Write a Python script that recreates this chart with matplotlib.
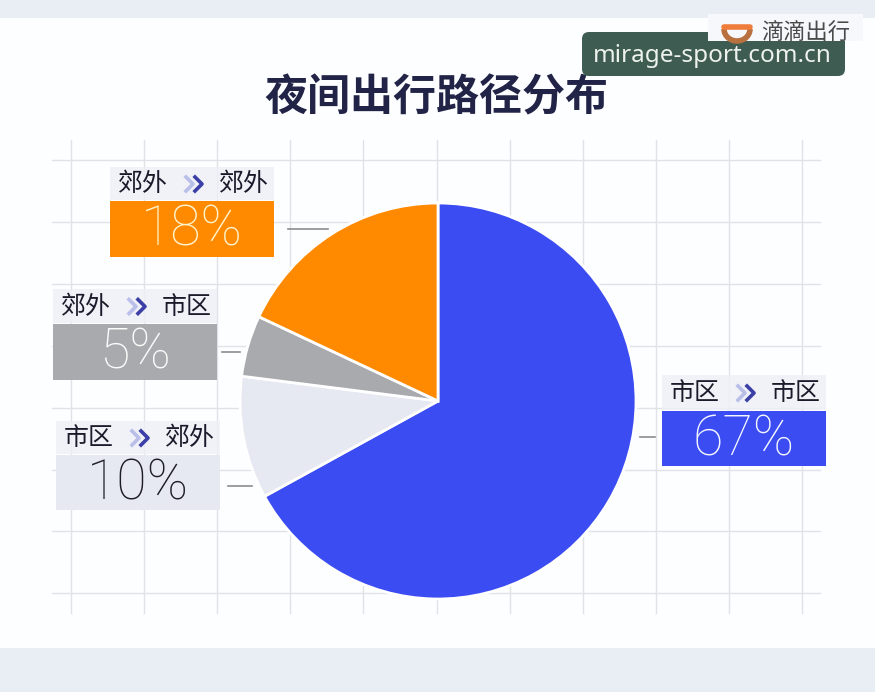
import matplotlib
matplotlib.use('Agg')
import matplotlib.pyplot as plt
from matplotlib.patches import Rectangle, FancyBboxPatch, Arc

plt.rcParams['font.family'] = ['Noto Sans CJK SC', 'DejaVu Sans']

# data
title = '夜间出行路径分布'
routes_from = ['市区', '市区', '郊外', '郊外']
routes_to = ['市区', '郊外', '市区', '郊外']
shares = [67, 10, 5, 18]
slice_colors = ['#3a4cf2', '#e7e9f2', '#a9aaae', '#ff8a00']
value_colors = ['#f4f6ff', '#1d1d2b', '#fbfbfb', '#fff3cc']

# label layout in pixels: box left, header top, value top, value bottom, connector
layout = [
    dict(x=662, ht=375, vt=411, vb=466, cx=(640, 655), cy=437),
    dict(x=56, ht=421, vt=455, vb=510, cx=(228, 252), cy=486),
    dict(x=53, ht=289, vt=324, vb=380, cx=(222, 240), cy=352),
    dict(x=110, ht=167, vt=201, vb=257, cx=(288, 328), cy=229),
]
box_w = 164

W, H = 875, 692
fig = plt.figure(figsize=(W / 100, H / 100), dpi=100)
fig.patch.set_facecolor('#e9edf4')

bg = fig.add_axes([0, 0, 1, 1])
bg.set_xlim(0, W)
bg.set_ylim(H, 0)
bg.axis('off')

# white card
bg.add_patch(Rectangle((0, 18), W, 630, facecolor='#fdfeff', edgecolor='none', zorder=0))

# grid
for gx in range(11):
    x = 71 + gx * 73.1
    bg.plot([x, x], [140, 613], color='#e0e2e8', lw=1, zorder=1)
for gy in range(8):
    y = 160 + gy * 61.9
    bg.plot([52, 820], [y, y], color='#e0e2e8', lw=1, zorder=1)

# watermark box, then the logo strip over its top
bg.add_patch(FancyBboxPatch((582, 32), 263, 44, boxstyle='round,pad=0,rounding_size=7',
                            facecolor='#3e5c51', edgecolor='none', zorder=4))
bg.text(712, 56, 'mirage-sport.com.cn', fontsize=17.5, family='Noto Sans', color='#eef2ee',
        ha='center', va='center', zorder=5)
bg.add_patch(Rectangle((708, 14), 155, 27, facecolor='#f7f8fb', edgecolor='none', zorder=6))
bg.add_patch(Arc((737, 29), 26, 24, theta1=0, theta2=180, color='#b8703f', lw=4, zorder=7))
bg.plot([724, 750], [27, 27], color='#f07c3c', lw=4, zorder=7, solid_capstyle='round')
bg.text(806, 32, '滴滴出行', fontsize=16, color='#4a4a4a', ha='center', va='center', zorder=7)

# title
bg.text(436, 97, title, fontsize=31, fontweight='bold', color='#222447',
        ha='center', va='center', zorder=3)

# labels
for i, lay in enumerate(layout):
    x0 = lay['x']
    bg.add_patch(Rectangle((x0, lay['ht']), box_w, lay['vt'] - lay['ht'] - 1,
                           facecolor='#eef0f7', edgecolor='none', alpha=0.85, zorder=2))
    bg.add_patch(Rectangle((x0, lay['vt']), box_w, lay['vb'] - lay['vt'],
                           facecolor=slice_colors[i], edgecolor='none', zorder=2))
    hy = (lay['ht'] + lay['vt']) / 2
    bg.text(x0 + 33, hy, routes_from[i], fontsize=18, color='#1a1a2a',
            ha='center', va='center', zorder=3)
    bg.text(x0 + 134, hy, routes_to[i], fontsize=18, color='#1a1a2a',
            ha='center', va='center', zorder=3)
    # double chevron
    cx = x0 + 76
    for k, c in enumerate(['#b9bfe8', '#3b3fa6']):
        xx = cx + k * 9
        bg.plot([xx, xx + 7, xx], [hy - 7, hy, hy + 7], color=c, lw=2.6, zorder=3)
    bg.text(x0 + box_w / 2, (lay['vt'] + lay['vb']) / 2 + 1, f'{shares[i]}%',
            fontsize=40, family='Roboto', fontweight='light', color=value_colors[i],
            ha='center', va='center', zorder=3)
    bg.plot(lay['cx'], [lay['cy'], lay['cy']], color='#8c8c8c', lw=1.2, zorder=3)

# pie
cxp, cyp, r = 438, 401, 198
pa = fig.add_axes([(cxp - 200) / W, (H - cyp - 200) / H, 400 / W, 400 / H])
pa.pie(shares, colors=slice_colors, startangle=90, counterclock=False,
       wedgeprops=dict(edgecolor='white', linewidth=2))
pa.set_xlim(-200 / r, 200 / r)
pa.set_ylim(-200 / r, 200 / r)
pa.axis('off')

fig.savefig('out.png', dpi=100, facecolor=fig.get_facecolor())
